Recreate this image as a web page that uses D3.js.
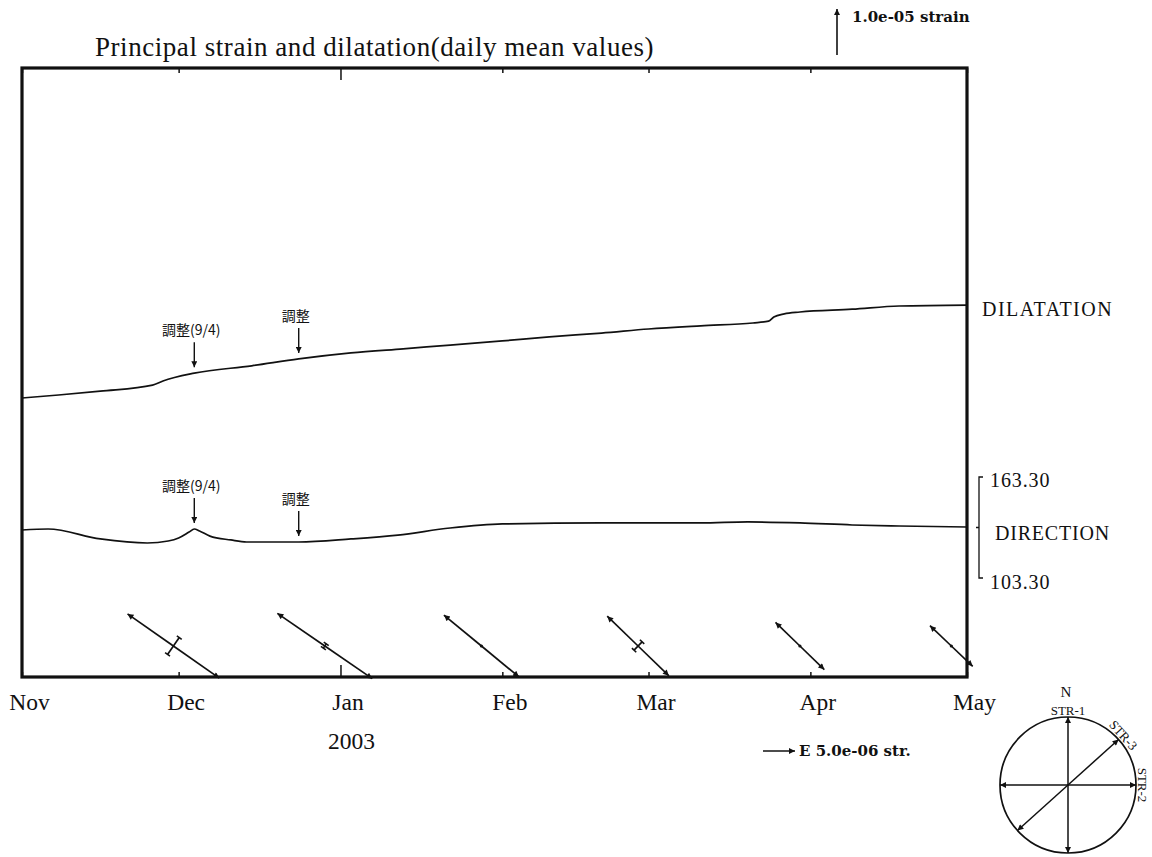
<!DOCTYPE html>
<html>
<head>
<meta charset="utf-8">
<script src="https://cdn.jsdelivr.net/npm/d3@7"></script>
<style>
  html, body { margin: 0; padding: 0; background: #fff; }
  svg { display: block; }
  text { font-family: "Liberation Serif", "Times New Roman", serif; fill: #111; }
  .cjk { font-family: "Noto Sans CJK JP", "Noto Sans CJK SC", sans-serif; }
  .bold { font-family: "DejaVu Serif", serif; font-weight: bold; }
</style>
</head>
<body>
<svg id="chart" width="1152" height="857"></svg>
<script>
// Daily mean dilatation, in units of 1e-6 strain relative to 1 Nov 2002
const dilatationDates = ["2002-11-01","2002-11-08","2002-11-16","2002-11-26","2002-11-28","2002-12-04",
  "2002-12-15","2002-12-24","2003-01-03","2003-01-13","2003-01-22","2003-02-01","2003-02-10","2003-02-20",
  "2003-03-01","2003-03-11","2003-03-21","2003-03-24","2003-03-25","2003-03-27","2003-03-30","2003-04-09",
  "2003-04-18","2003-05-01"];
const dilatationValues = [0, 0.65, 1.5, 2.8, 3.7, 5.4, 7.0, 8.5, 9.8, 10.7, 11.5, 12.4, 13.3, 14.1,
  15.0, 15.7, 16.3, 16.7, 17.6, 18.3, 18.7, 19.3, 20.0, 20.2];

// Azimuth of the maximum extension axis, degrees clockwise from north
const directionDates = ["2002-11-01","2002-11-06","2002-11-16","2002-11-25","2002-11-29","2002-12-01",
  "2002-12-03","2002-12-04","2002-12-05","2002-12-07","2002-12-11","2002-12-14","2002-12-24","2003-01-03",
  "2003-01-12","2003-01-22","2003-02-01","2003-02-20","2003-03-11","2003-03-20","2003-03-30","2003-04-09",
  "2003-04-18","2003-05-01"];
const directionValues = [131.8, 132.4, 126.5, 124.1, 125.3, 127.1, 130.6, 132.4, 131.2, 128.2, 125.9,
  124.7, 124.7, 126.5, 128.8, 133.0, 135.4, 136.0, 136.0, 136.6, 136.0, 134.8, 134.2, 133.6];
const directionRange = [103.30, 163.30];

// Monthly principal strain crosses (1e-6 strain)
const strainDates = ["2002-11-30","2002-12-29","2003-01-28","2003-02-27","2003-03-30","2003-04-28"];
const strainAzimuth = [125.0, 124.5, 129.5, 134.0, 134.0, 133.5];
const strainExtension = [8.75, 9.0, 7.6, 6.7, 5.3, 4.6];
const strainCompression = [1.6, 0.4, 0.2, 0.9, 0.2, 0.3];

// Maintenance notes
const noteDates = ["2002-12-04", "2002-12-24"];
const noteTexts = ["調整(9/4)", "調整"];

// Sensor orientation of the strainmeter components
const sensorNames = ["STR-1", "STR-2", "STR-3"];
const sensorAzimuth = [0, 90, 48];

const titleText = "Principal strain and dilatation(daily mean values)";
const startDate = "2002-11-01", endDate = "2003-05-01";

// ---------------------------------------------------------------
const svg = d3.select("#chart");
const parse = d3.utcParse("%Y-%m-%d");
const frame = { left: 22, right: 967, top: 68, bottom: 677 };

const x = d3.scaleUtc().domain([parse(startDate), parse(endDate)]).range([frame.left, frame.right]);
const yDil = d3.scaleLinear().domain([0, 10]).range([398, 352]);
const yDir = d3.scaleLinear().domain(directionRange).range([578, 477]);
const strainLen = d3.scaleLinear().domain([0, 5]).range([0, 32]); // arm length per 1e-6 strain

// arrowhead markers
const defs = svg.append("defs");
function marker(id, w, h) {
  defs.append("marker").attr("id", id)
    .attr("viewBox", "0 0 10 10").attr("refX", 10).attr("refY", 5)
    .attr("markerUnits", "userSpaceOnUse")
    .attr("markerWidth", w).attr("markerHeight", h)
    .attr("orient", "auto-start-reverse")
    .append("path").attr("d", "M0,0 L10,5 L0,10 Z").attr("fill", "#111");
}
marker("head", 10, 6);
marker("headSmall", 8, 6);

// title
svg.append("text").attr("x", 95).attr("y", 56)
  .attr("font-size", 27).attr("letter-spacing", 0.55).text(titleText);

// scale bar for dilatation
const barX = 837, barBottom = 55;
svg.append("line")
  .attr("x1", barX).attr("x2", barX)
  .attr("y1", barBottom).attr("y2", barBottom - (yDil(0) - yDil(10)))
  .attr("stroke", "#111").attr("stroke-width", 1.6)
  .attr("marker-end", "url(#headSmall)");
svg.append("text").attr("class", "bold").attr("x", 852).attr("y", 22)
  .attr("font-size", 15).text("1.0e-05 strain");

// axes (ticks pointing inward)
const months = d3.utcMonth.range(parse(startDate), d3.utcDay.offset(parse(endDate), 1));
const axB = svg.append("g").attr("transform", `translate(0,${frame.bottom})`)
  .call(d3.axisBottom(x).tickValues(months).tickFormat(d3.utcFormat("%b"))
    .tickSizeInner(-5).tickSizeOuter(0));
axB.select(".domain").remove();
axB.selectAll(".tick line").attr("stroke", "#111").attr("stroke-width", 1.5)
  .attr("y2", d => d.getUTCMonth() === 0 ? -12 : -5);
axB.selectAll(".tick text")
  .attr("y", 33).attr("dy", 0).attr("dx", 7)
  .attr("font-size", 23.5).attr("fill", "#111")
  .attr("font-family", "Liberation Serif, Times New Roman, serif");
axB.append("text").attr("x", x(parse("2003-01-01")) + 11).attr("y", 72)
  .attr("text-anchor", "middle").attr("font-size", 23.5).attr("fill", "#111")
  .attr("font-family", "Liberation Serif, Times New Roman, serif").text("2003");

const axT = svg.append("g").attr("transform", `translate(0,${frame.top})`)
  .call(d3.axisTop(x).tickValues(months).tickFormat("").tickSizeInner(-5).tickSizeOuter(0));
axT.select(".domain").remove();
axT.selectAll(".tick line").attr("stroke", "#111").attr("stroke-width", 1.5)
  .attr("y2", d => d.getUTCMonth() === 0 ? 12 : 5);

// frame
svg.append("rect")
  .attr("x", frame.left).attr("y", frame.top)
  .attr("width", frame.right - frame.left).attr("height", frame.bottom - frame.top)
  .attr("fill", "none").attr("stroke", "#111").attr("stroke-width", 3.2);

// dilatation curve
const dilData = dilatationDates.map((d, i) => ({ date: parse(d), v: dilatationValues[i] }));
svg.append("path").datum(dilData)
  .attr("d", d3.line().x(d => x(d.date)).y(d => yDil(d.v)).curve(d3.curveMonotoneX))
  .attr("fill", "none").attr("stroke", "#111").attr("stroke-width", 1.7);

// direction curve
const dirData = directionDates.map((d, i) => ({ date: parse(d), v: directionValues[i] }));
svg.append("path").datum(dirData)
  .attr("d", d3.line().x(d => x(d.date)).y(d => yDir(d.v)).curve(d3.curveMonotoneX))
  .attr("fill", "none").attr("stroke", "#111").attr("stroke-width", 1.7);

// right-hand labels
const lastDil = dilData[dilData.length - 1];
svg.append("text").attr("x", 982).attr("y", yDil(lastDil.v) + 11)
  .attr("font-size", 20).attr("letter-spacing", 1.5).text("DILATATION");

const bx = 979;
svg.append("path")
  .attr("d", `M${bx + 4},${yDir(directionRange[1])} H${bx} V${yDir(directionRange[0])} H${bx + 4}`
    + ` M${bx},${yDir(d3.mean(directionRange))} h-3`)
  .attr("fill", "none").attr("stroke", "#111").attr("stroke-width", 1.3);
svg.append("text").attr("x", 990).attr("y", yDir(directionRange[1]) + 10)
  .attr("font-size", 20).attr("letter-spacing", 0.9).text(directionRange[1].toFixed(2));
svg.append("text").attr("x", 990).attr("y", yDir(directionRange[0]) + 11)
  .attr("font-size", 20).attr("letter-spacing", 0.9).text(directionRange[0].toFixed(2));
svg.append("text").attr("x", 995).attr("y", yDir(d3.mean(directionRange)) + 12)
  .attr("font-size", 20).attr("letter-spacing", 0.8).text("DIRECTION");

// maintenance notes above both curves
function valueAt(data, date) {
  const bis = d3.bisector(d => d.date).left;
  const i = Math.min(Math.max(bis(data, date), 1), data.length - 1);
  const a = data[i - 1], b = data[i];
  const t = (date - a.date) / (b.date - a.date);
  return a.v + (b.v - a.v) * t;
}
function notes(data, yScale) {
  noteDates.forEach((ds, i) => {
    const dt = parse(ds), px = x(dt);
    const tip = yScale(valueAt(data, dt)) - 6;
    const top = tip - 25;
    svg.append("line").attr("x1", px).attr("x2", px).attr("y1", top).attr("y2", tip)
      .attr("stroke", "#111").attr("stroke-width", 1.4).attr("marker-end", "url(#headSmall)");
    svg.append("text").attr("class", "cjk").attr("x", px - 3).attr("y", top - 7)
      .attr("text-anchor", "middle").attr("font-size", 14).text(noteTexts[i]);
  });
}
notes(dilData, yDil);
notes(dirData, yDir);

// principal strain crosses
const crossY = 646;
strainDates.forEach((ds, i) => {
  const cx = x(parse(ds));
  const a = strainAzimuth[i] * Math.PI / 180;
  const ux = Math.sin(a), uy = -Math.cos(a);       // screen direction of extension axis
  const L = strainLen(strainExtension[i]);
  const g = svg.append("g");
  [1, -1].forEach(s => {
    g.append("line").attr("x1", cx).attr("y1", crossY)
      .attr("x2", cx + s * ux * L).attr("y2", crossY + s * uy * L)
      .attr("stroke", "#111").attr("stroke-width", 1.7).attr("marker-end", "url(#head)");
  });
  const c = strainLen(strainCompression[i]);
  const px = -uy, py = ux;                          // perpendicular axis
  if (c > 2) {
    g.append("line").attr("x1", cx - px * c).attr("y1", crossY - py * c)
      .attr("x2", cx + px * c).attr("y2", crossY + py * c)
      .attr("stroke", "#111").attr("stroke-width", 1.7);
    [-1, 1].forEach(s => {
      const ex = cx + s * px * c, ey = crossY + s * py * c;
      g.append("line").attr("x1", ex - ux * 3).attr("y1", ey - uy * 3)
        .attr("x2", ex + ux * 3).attr("y2", ey + uy * 3)
        .attr("stroke", "#111").attr("stroke-width", 1.6);
    });
  } else {
    g.append("circle").attr("cx", cx).attr("cy", crossY).attr("r", 1.6).attr("fill", "#111");
  }
});

// strain scale arrow
const legY = 751, legX = 763;
svg.append("line").attr("x1", legX).attr("x2", legX + strainLen(5)).attr("y1", legY).attr("y2", legY)
  .attr("stroke", "#111").attr("stroke-width", 1.5).attr("marker-end", "url(#headSmall)");
svg.append("text").attr("class", "bold").attr("x", 799).attr("y", 756).attr("font-size", 15)
  .text("E 5.0e-06 str.");

// sensor orientation rose
const rose = { cx: 1068, cy: 785, r: 68 };
const rg = svg.append("g");
rg.append("circle").attr("cx", rose.cx).attr("cy", rose.cy).attr("r", rose.r)
  .attr("fill", "none").attr("stroke", "#111").attr("stroke-width", 1.7);
sensorAzimuth.forEach(az => {
  const a = az * Math.PI / 180, ux = Math.sin(a), uy = -Math.cos(a);
  [1, -1].forEach(s => {
    rg.append("line").attr("x1", rose.cx).attr("y1", rose.cy)
      .attr("x2", rose.cx + s * ux * rose.r).attr("y2", rose.cy + s * uy * rose.r)
      .attr("stroke", "#111").attr("stroke-width", 1.5).attr("marker-end", "url(#headSmall)");
  });
});
rg.append("text").attr("x", rose.cx - 2).attr("y", rose.cy - rose.r - 20).attr("text-anchor", "middle")
  .attr("font-size", 15).text("N");
sensorNames.forEach((name, i) => {
  const az = sensorAzimuth[i];
  const a = az * Math.PI / 180;
  const rr = rose.r + 2;
  const tx = rose.cx + Math.sin(a) * rr, ty = rose.cy - Math.cos(a) * rr;
  rg.append("text")
    .attr("transform", `translate(${tx},${ty}) rotate(${az})`)
    .attr("text-anchor", "middle")
    .attr("font-size", 13).text(name);
});
</script>
</body>
</html>
